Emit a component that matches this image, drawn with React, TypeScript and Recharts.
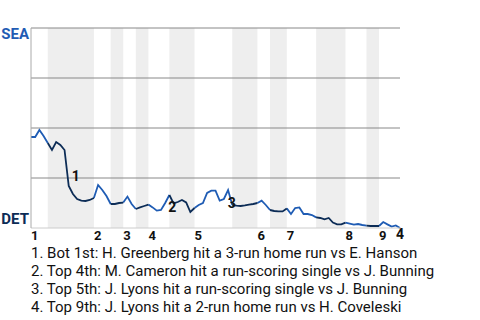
import React from "react"
import { ComposedChart, Line, XAxis, YAxis, ReferenceArea, ReferenceLine, ReferenceDot } from "recharts"

// SEA win probability after each plate appearance (0 = DET wins, 1 = SEA wins)
const winProb = [
  0.455, 0.455, 0.49, 0.46, 0.425, 0.39, 0.43, 0.415, 0.39, 0.21,
  0.17, 0.145, 0.137, 0.135, 0.14, 0.15, 0.215, 0.19, 0.16, 0.12,
  0.12, 0.125, 0.127, 0.157, 0.12, 0.095, 0.103, 0.11, 0.117, 0.103,
  0.087, 0.09, 0.125, 0.165, 0.123, 0.13, 0.14, 0.128, 0.08, 0.1,
  0.115, 0.125, 0.175, 0.187, 0.187, 0.137, 0.145, 0.19, 0.115, 0.112,
  0.11, 0.113, 0.117, 0.12, 0.125, 0.137, 0.115, 0.09, 0.085, 0.083,
  0.083, 0.098, 0.07, 0.1, 0.103, 0.07, 0.07, 0.065, 0.053, 0.05,
  0.043, 0.05, 0.027, 0.018, 0.018, 0.027, 0.022, 0.017, 0.02, 0.015,
  0.012, 0.01, 0.01, 0.01, 0.03, 0.018, 0.007, 0.013, 0,
]

// plate-appearance index where each half inning starts (last = end of game)
const halfBounds = [0, 4, 15, 19, 22, 25, 28, 33, 39, 48, 54, 57, 61, 68, 75, 80, 83, 88]
const inningLabels = ["1", "2", "3", "4", "5", "6", "7", "8", "9"]

const eventLabels = ["1", "2", "3", "4"]
const eventX = [10.7, 33.7, 47.9, 88]
const eventY = [0.26, 0.107, 0.127, -0.03]
const eventText = [
  "1. Bot 1st: H. Greenberg hit a 3-run home run vs E. Hanson",
  "2. Top 4th: M. Cameron hit a run-scoring single vs J. Bunning",
  "3. Top 5th: J. Lyons hit a run-scoring single vs J. Bunning",
  "4. Top 9th: J. Lyons hit a 2-run home run vs H. Coveleski",
]

const SEA_BLUE = "#1f5cb4"
const DET_NAVY = "#0c2c56"

const inningStarts = halfBounds.filter((_, i) => i % 2 === 0 && i < halfBounds.length - 1)

// split into top-half (visitor batting) and bottom-half segments, sharing boundary points
const data = winProb.map((v, pa) => {
  const row: any = { pa, top: null, bot: null }
  for (let k = 0; k < halfBounds.length - 1; k++) {
    if (pa >= halfBounds[k] && pa <= halfBounds[k + 1]) {
      if (k % 2 === 0) row.top = v
      else row.bot = v
    }
  }
  return row
})

const YTick = (props: any) => {
  const { x, y, payload } = props
  if (payload.value === 1)
    return <text x={x} y={y} dy={11} textAnchor="end" fill={SEA_BLUE} fontSize={15} fontWeight="bold">SEA</text>
  if (payload.value === 0)
    return <text x={x} y={y} dy={-4} textAnchor="end" fill={DET_NAVY} fontSize={15} fontWeight="bold">DET</text>
  return null
}

const XTick = (props: any) => {
  const { x, y, payload } = props
  const idx = inningStarts.indexOf(payload.value)
  return (
    <text x={x} y={y} dy={12} textAnchor="start" fill="#111" fontSize={13} fontWeight="bold">
      {inningLabels[idx]}
    </text>
  )
}

export default function App() {
  return (
    <div style={{ position: "absolute", left: 0, top: 0, width: 480, height: 320, fontFamily: "Roboto", background: "#fff" }}>
      <ComposedChart width={480} height={245} data={data} margin={{ top: 28, right: 80, left: 0, bottom: 0 }}>
        <XAxis
          dataKey="pa"
          type="number"
          domain={[0, 88]}
          ticks={inningStarts}
          tick={<XTick />}
          tickLine={false}
          tickSize={0}
          tickMargin={0}
          height={17}
          stroke="#cccccc"
          interval={0}
        />
        <YAxis
          type="number"
          domain={[0, 1]}
          ticks={[0, 0.25, 0.5, 0.75, 1]}
          tick={<YTick />}
          tickLine={false}
          tickSize={0}
          tickMargin={2}
          width={31}
          stroke="#aaaaaa"
          interval={0}
        />
        {halfBounds.slice(0, -1).map((b, k) =>
          k % 2 === 1 ? (
            <ReferenceArea key={k} x1={b} x2={halfBounds[k + 1]} y1={0} y2={1} fill="#eeeeee" fillOpacity={1} stroke="none" />
          ) : null
        )}
        {[0.25, 0.5, 0.75, 1].map((v) => (
          <ReferenceLine key={v} y={v} stroke="#888888" strokeWidth={1} />
        ))}
        <Line type="linear" dataKey="top" stroke={SEA_BLUE} strokeWidth={1.8} dot={false} connectNulls={false} isAnimationActive={false} />
        <Line type="linear" dataKey="bot" stroke={DET_NAVY} strokeWidth={1.8} dot={false} connectNulls={false} isAnimationActive={false} />
        {eventLabels.map((lab, i) => (
          <ReferenceDot
            key={lab}
            x={eventX[i]}
            y={eventY[i]}
            r={0}
            ifOverflow="visible"
            label={{ value: lab, position: "center", fill: "#111", fontSize: 14, fontWeight: "bold" }}
          />
        ))}
      </ComposedChart>
      <div style={{ position: "absolute", left: 31, top: 244, fontSize: 15, lineHeight: "18px", color: "#111", whiteSpace: "nowrap" }}>
        {eventText.map((t) => (
          <div key={t}>{t}</div>
        ))}
      </div>
    </div>
  )
}
